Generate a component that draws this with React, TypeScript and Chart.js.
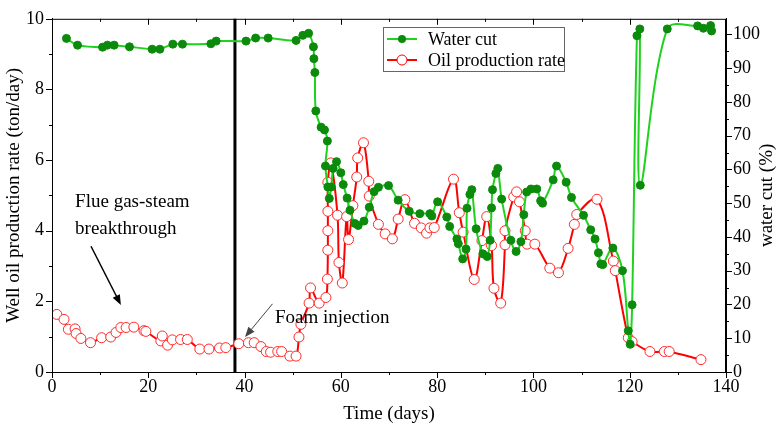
import React, { useEffect, useRef } from 'react';
import { Chart, registerables } from 'chart.js';
Chart.register(...registerables);

const FONT = "'Liberation Serif', 'Times New Roman', serif";

// ---- data ----
const waterCutDays = [
  3.0, 5.3, 10.5, 11.5, 12.9, 16.1, 20.8, 22.4, 25.1, 27.1,
  33.0, 34.1, 40.3, 42.3, 44.9, 50.7, 52.1, 53.3, 54.3, 54.4,
  54.6, 54.8, 55.9, 56.6, 57.2, 56.8, 57.3, 57.6, 58.0, 58.4,
  59.1, 60.0, 60.5, 61.3, 61.9, 62.9, 63.6, 64.8, 65.9, 66.9,
  67.8, 69.9, 71.9, 74.2, 76.4, 78.5, 78.9, 80.1, 82.0, 82.6,
  84.1, 84.4, 85.3, 86.0, 86.2, 86.8, 87.2, 88.1, 89.5, 90.4,
  91.0, 91.3, 91.5, 92.2, 92.6, 93.4, 95.3, 96.4, 97.4, 98.0,
  98.6, 99.5, 100.7, 101.5, 101.9, 104.1, 104.8, 106.8, 107.9, 110.4,
  111.9, 112.8, 113.5, 114.0, 114.4, 116.5, 118.5, 119.7, 120.1, 120.5,
  121.5, 122.1, 122.2, 127.8, 134.1, 135.3, 136.8, 137.0,
];
const waterCutValues = [
  98.8, 96.8, 96.2, 96.8, 96.8, 96.3, 95.6, 95.6, 97.1, 97.1,
  97.2, 98.0, 98.0, 98.9, 98.9, 98.2, 99.7, 100.3, 96.3, 92.8,
  88.7, 77.3, 72.5, 71.7, 68.4, 61.0, 54.8, 51.4, 54.8, 60.3,
  62.3, 59.0, 55.5, 51.5, 47.9, 44.0, 43.4, 44.7, 48.8, 53.4,
  54.7, 55.2, 50.9, 47.6, 46.9, 46.9, 46.2, 50.4, 45.9, 43.1,
  39.4, 38.0, 33.5, 36.4, 48.5, 52.6, 54.0, 42.4, 35.0, 34.2,
  39.0, 48.6, 54.0, 58.8, 60.3, 51.2, 39.0, 35.7, 38.6, 46.6,
  53.3, 54.2, 54.2, 50.7, 50.0, 56.9, 61.0, 56.2, 51.7, 46.4,
  42.1, 39.4, 35.3, 32.0, 31.8, 36.7, 30.0, 12.2, 8.2, 19.9,
  99.6, 101.6, 55.3, 101.6, 102.5, 101.8, 102.6, 101.0,
];
const oilDays = [
  1.0, 2.5, 3.4, 4.8, 5.0, 6.0, 8.0, 10.3, 12.2, 13.3,
  14.3, 15.4, 17.0, 19.1, 19.5, 22.6, 22.9, 24.0, 25.0, 26.7,
  28.1, 30.7, 32.6, 34.8, 36.1, 38.8, 40.8, 42.0, 43.4, 44.5,
  45.4, 46.9, 47.7, 49.4, 50.7, 51.3, 51.7, 53.4, 53.7, 55.5,
  56.9, 57.2, 57.3, 57.3, 57.3, 57.3, 57.9, 59.3, 59.6, 60.3,
  61.2, 61.6, 62.5, 63.3, 63.5, 64.7, 65.8, 65.9, 67.8, 69.2,
  70.7, 71.9, 73.3, 75.3, 76.7, 77.8, 78.5, 79.4, 83.4, 84.6,
  85.4, 87.7, 89.3, 90.3, 91.3, 91.8, 93.2, 94.1, 94.1, 95.9,
  96.5, 97.1, 98.3, 98.7, 100.3, 103.4, 105.2, 107.2, 108.5, 109.0,
  113.2, 116.6, 117.0, 119.7, 120.5, 124.2, 127.2, 128.2, 134.8,
];
const oilValues = [
  1.63, 1.49, 1.21, 1.22, 1.09, 0.95, 0.83, 0.97, 0.99, 1.12,
  1.26, 1.26, 1.27, 1.17, 1.15, 0.88, 1.02, 0.76, 0.91, 0.92,
  0.92, 0.65, 0.65, 0.68, 0.69, 0.80, 0.83, 0.83, 0.72, 0.58,
  0.56, 0.58, 0.58, 0.45, 0.45, 0.99, 1.35, 1.95, 2.38, 1.95,
  2.11, 2.63, 3.45, 4.0, 4.55, 5.37, 5.92, 4.44, 3.1, 2.52,
  4.4, 3.75, 4.71, 5.52, 6.06, 6.49, 5.40, 4.98, 4.18, 3.91,
  3.77, 4.33, 4.88, 4.21, 4.08, 3.93, 4.08, 4.09, 5.46, 4.51,
  3.96, 2.62, 3.72, 4.40, 3.58, 2.37, 1.95, 3.60, 4.0, 4.96,
  5.10, 4.82, 4.0, 3.62, 3.62, 2.94, 2.81, 3.5, 4.18, 4.46,
  4.89, 3.14, 2.87, 0.97, 0.86, 0.58, 0.58, 0.58, 0.35,
];
const xTicks = [0, 20, 40, 60, 80, 100, 120, 140];
const leftTicks = [0, 2, 4, 6, 8, 10];
const rightTicks = [0, 10, 20, 30, 40, 50, 60, 70, 80, 90, 100];
const seriesLabels = ['Water cut', 'Oil production rate'];
const rightAxisTitle = 'water cut (%)';
const foamInjectionDay = 38;
const annotationTexts = [
  { text: 'Flue gas-steam', day: 4.8, value: 4.68 },
  { text: 'breakthrough', day: 4.8, value: 3.91 },
  { text: 'Foam injection', day: 46.3, value: 1.38 },
];
const arrows = [
  { from: [8.1, 3.56], to: [14.3, 1.9], color: '#000', width: 1.5 },
  { from: [45.8, 1.93], to: [40.1, 0.99], color: '#444', width: 1 },
];

const GREEN_LINE = '#1ed21e';
const GREEN_DOT = '#0b8a0b';
const RED = '#ff0000';

function arrow(ctx: CanvasRenderingContext2D, x1: number, y1: number, x2: number, y2: number, color: string, w: number) {
  const ang = Math.atan2(y2 - y1, x2 - x1);
  const hl = 10, hw = 4;
  ctx.save();
  ctx.strokeStyle = color;
  ctx.fillStyle = color;
  ctx.lineWidth = w;
  ctx.beginPath();
  ctx.moveTo(x1, y1);
  ctx.lineTo(x2 - Math.cos(ang) * hl * 0.8, y2 - Math.sin(ang) * hl * 0.8);
  ctx.stroke();
  ctx.beginPath();
  ctx.moveTo(x2, y2);
  ctx.lineTo(x2 - Math.cos(ang) * hl + Math.sin(ang) * hw, y2 - Math.sin(ang) * hl - Math.cos(ang) * hw);
  ctx.lineTo(x2 - Math.cos(ang) * hl - Math.sin(ang) * hw, y2 - Math.sin(ang) * hl + Math.cos(ang) * hw);
  ctx.closePath();
  ctx.fill();
  ctx.restore();
}

const decorPlugin = {
  id: 'decor',
  beforeDatasetsDraw(chart: any) {
    const { ctx, chartArea, scales } = chart;
    const px = scales.x.getPixelForValue(foamInjectionDay);
    ctx.save();
    ctx.strokeStyle = '#000';
    ctx.lineWidth = 3;
    ctx.beginPath();
    ctx.moveTo(px, chartArea.top);
    ctx.lineTo(px, chartArea.bottom);
    ctx.stroke();
    ctx.restore();
  },
  afterDraw(chart: any) {
    const { ctx, chartArea, scales } = chart;
    const { left, right, top, bottom } = chartArea;
    const x = scales.x, y = scales.y, y1 = scales.y1;
    ctx.save();
    // frame
    ctx.strokeStyle = '#000';
    ctx.lineWidth = 1;
    ctx.strokeRect(left + 0.5, top + 0.5, right - left - 1, bottom - top);
    // ticks
    const line = (a: number, b: number, c: number, d: number) => {
      ctx.beginPath(); ctx.moveTo(a, b); ctx.lineTo(c, d); ctx.stroke();
    };
    for (let v = 0; v <= 140; v += 10) {
      const p = Math.round(x.getPixelForValue(v)) + 0.5;
      const len = v % 20 === 0 ? 6 : 3;
      line(p, bottom, p, bottom + len);
      line(p, top, p, top + len);
    }
    for (let v = 0; v <= 10; v += 1) {
      const p = Math.round(y.getPixelForValue(v)) + 0.5;
      const len = v % 2 === 0 ? 6 : 3;
      line(left - len, p, left, p);
    }
    for (let v = 0; v <= 100; v += 5) {
      const p = Math.round(y1.getPixelForValue(v)) + 0.5;
      const len = v % 10 === 0 ? 6 : 3;
      line(right, p, right + len, p);
    }
    // right axis title (reads bottom to top)
    ctx.save();
    ctx.fillStyle = '#000';
    ctx.font = `19px ${FONT}`;
    ctx.textAlign = 'center';
    ctx.textBaseline = 'middle';
    ctx.translate(767, (top + bottom) / 2);
    ctx.rotate(-Math.PI / 2);
    ctx.fillText(rightAxisTitle, 0, 0);
    ctx.restore();
    // annotation texts
    ctx.fillStyle = '#000';
    ctx.font = `19px ${FONT}`;
    ctx.textBaseline = 'alphabetic';
    ctx.textAlign = 'left';
    for (const t of annotationTexts) {
      ctx.fillText(t.text, x.getPixelForValue(t.day), y.getPixelForValue(t.value));
    }
    for (const a of arrows) {
      arrow(ctx, x.getPixelForValue(a.from[0]), y.getPixelForValue(a.from[1]),
        x.getPixelForValue(a.to[0]), y.getPixelForValue(a.to[1]), a.color, a.width);
    }
    // legend
    const lx = 383, ly = 27, lw = 181, lh = 44;
    ctx.fillStyle = '#fff';
    ctx.fillRect(lx, ly, lw, lh);
    ctx.strokeStyle = '#666';
    ctx.lineWidth = 1;
    ctx.strokeRect(lx + 0.5, ly + 0.5, lw, lh);
    const rows = [39, 60];
    ctx.strokeStyle = GREEN_LINE; ctx.lineWidth = 2;
    line(lx + 4, rows[0], lx + 34, rows[0]);
    ctx.fillStyle = GREEN_DOT;
    ctx.beginPath(); ctx.arc(lx + 19, rows[0], 4, 0, Math.PI * 2); ctx.fill();
    ctx.strokeStyle = RED; ctx.lineWidth = 2;
    line(lx + 4, rows[1], lx + 34, rows[1]);
    ctx.fillStyle = '#fff'; ctx.strokeStyle = RED; ctx.lineWidth = 1;
    ctx.beginPath(); ctx.arc(lx + 19, rows[1], 5, 0, Math.PI * 2); ctx.fill(); ctx.stroke();
    ctx.fillStyle = '#000';
    ctx.font = `18px ${FONT}`;
    ctx.textBaseline = 'middle';
    ctx.fillText(seriesLabels[0], lx + 45, rows[0] + 1);
    ctx.fillText(seriesLabels[1], lx + 45, rows[1] + 1);
    ctx.restore();
  },
};

export default function App() {
  const ref = useRef<HTMLCanvasElement>(null);
  useEffect(() => {
    document.body.style.margin = '0';
    const canvas = ref.current!;
    const tickFont = { family: FONT, size: 18 };
    const titleFont = { family: FONT, size: 19 };
    const chart = new Chart(canvas, {
      type: 'line',
      data: {
        datasets: [
          {
            label: seriesLabels[0],
            data: waterCutDays.map((d, i) => ({ x: d, y: waterCutValues[i] })),
            yAxisID: 'y1',
            borderColor: GREEN_LINE,
            borderWidth: 2,
            pointRadius: 4,
            pointBackgroundColor: GREEN_DOT,
            pointBorderColor: GREEN_DOT,
            pointBorderWidth: 1,
            tension: 0.35,
            order: 0,
          },
          {
            label: seriesLabels[1],
            data: oilDays.map((d, i) => ({ x: d, y: oilValues[i] })),
            yAxisID: 'y',
            borderColor: RED,
            borderWidth: 2,
            pointRadius: 5,
            pointBackgroundColor: '#fff',
            pointBorderColor: '#ff2a2a',
            pointBorderWidth: 1,
            tension: 0.35,
            order: 1,
          },
        ],
      },
      options: {
        responsive: false,
        animation: false,
        devicePixelRatio: 1,
        elements: { line: { capBezierPoints: false } },
        layout: { padding: { top: 7, left: 0, right: 0, bottom: 0 } },
        plugins: { legend: { display: false }, tooltip: { enabled: false } },
        scales: {
          x: {
            type: 'linear',
            min: 0,
            max: 140,
            grid: { display: false, drawTicks: false },
            border: { display: true, color: '#000', width: 1 },
            ticks: { color: '#000', font: tickFont, padding: 4, maxRotation: 0, autoSkip: false },
            afterBuildTicks: (s: any) => { s.ticks = xTicks.map((v) => ({ value: v })); },
            afterFit: (s: any) => { s.height = 57; },
            title: { display: true, text: 'Time (days)', color: '#000', font: titleFont, padding: { top: 0, bottom: 4 } },
          },
          y: {
            type: 'linear',
            position: 'left',
            min: 0,
            max: 10,
            grid: { display: false, drawTicks: false },
            border: { display: true, color: '#000', width: 1 },
            ticks: { color: '#000', font: tickFont, padding: 8 },
            afterBuildTicks: (s: any) => { s.ticks = leftTicks.map((v) => ({ value: v })); },
            afterFit: (s: any) => { s.width = 52; },
            title: { display: true, text: 'Well oil production rate (ton/day)', color: '#000', font: titleFont, padding: { top: 3, bottom: 0 } },
          },
          y1: {
            type: 'linear',
            position: 'right',
            min: 0,
            max: 104.6,
            grid: { display: false, drawTicks: false },
            border: { display: true, color: '#000', width: 1 },
            ticks: { color: '#000', font: tickFont, padding: 7 },
            afterBuildTicks: (s: any) => { s.ticks = rightTicks.map((v) => ({ value: v })); },
            afterFit: (s: any) => { s.width = 56; },
            title: { display: false },
          },
        },
      },
      plugins: [decorPlugin],
    } as any);
    return () => chart.destroy();
  }, []);
  return <canvas ref={ref} width={782} height={429} style={{ display: 'block', width: '782px', height: '429px' }} />;
}
